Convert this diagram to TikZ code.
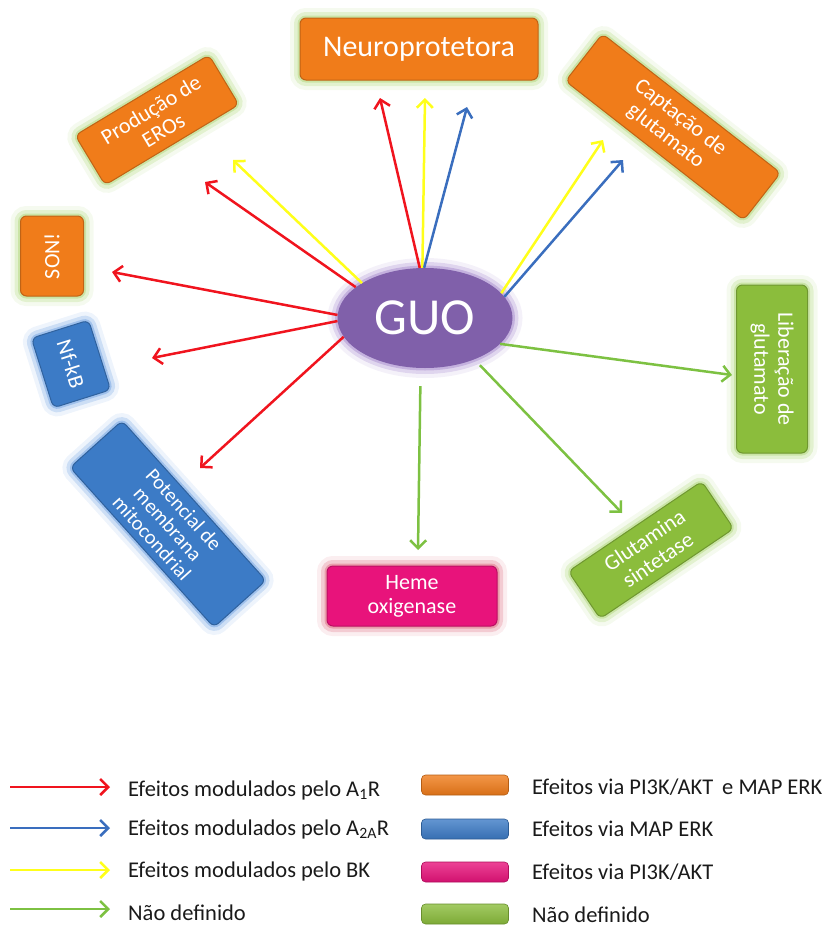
\documentclass[tikz,border=0pt]{standalone}
\usepackage{fontspec}
\setmainfont{Carlito}
\usetikzlibrary{shapes.geometric,arrows.meta}

\definecolor{cOrange}{HTML}{F07C1A}
\definecolor{cBlue}{HTML}{3C7BC6}
\definecolor{cPink}{HTML}{E8137B}
\definecolor{cGreen}{HTML}{8BBD3C}
\definecolor{cPurple}{HTML}{8060AA}
\definecolor{gGreen}{HTML}{BFDF94}
\definecolor{gBlue}{HTML}{8DB5E8}
\definecolor{gPink}{HTML}{E58A9A}
\definecolor{gPurple}{HTML}{B8A2D8}
\definecolor{aRed}{HTML}{F0141E}
\definecolor{aYellow}{HTML}{FFFF1A}
\definecolor{aBlue}{HTML}{3A6EBE}
\definecolor{aGreen}{HTML}{7DC142}
\definecolor{txt}{HTML}{1A1A1A}

\tikzset{
 glow/.style={preaction={draw=#1,line width=20pt,opacity=0.15},
              preaction={draw=#1,line width=12pt,opacity=0.35},
              preaction={draw=#1,line width=5pt,opacity=0.7}},
 box/.style={rectangle,rounded corners=6pt,inner sep=0pt,align=center,text=white,
             font=\fontsize{22}{24}\selectfont,line width=1pt},
 obox/.style={box,fill=cOrange,draw=cOrange!80!black,glow=gGreen},
 bbox/.style={box,fill=cBlue,draw=cBlue!80!black,glow=gBlue},
 pbox/.style={box,fill=cPink,draw=cPink!80!black,glow=gPink},
 gbox/.style={box,fill=cGreen,draw=cGreen!80!black,glow=gGreen},
 arr/.style={line width=2.5pt,-{Straight Barb[length=8pt,width=16pt]}},
 rarr/.style={arr,draw=aRed},
 yarr/.style={arr,draw=aYellow},
 barr/.style={arr,draw=aBlue},
 garr/.style={arr,draw=aGreen},
 swatch/.style={rectangle,rounded corners=4pt,minimum width=87pt,minimum height=20pt,inner sep=0pt,draw=#1!75!black,line width=0.6pt,top color=#1!80!white,bottom color=#1!90!black},
 legtxt/.style={anchor=west,text=txt,font=\fontsize{22.5}{24}\selectfont,inner sep=0pt},
}

\begin{document}
\begin{tikzpicture}[x=1pt,y=-1pt]
\useasboundingbox (0,0) rectangle (828,929);

% central node
\node[ellipse,fill=cPurple,glow=gPurple,minimum width=175pt,minimum height=100pt,inner sep=0pt,
      text=white,font=\fontsize{52}{54}\selectfont] (guo) at (425,318) {GUO};

% boxes
\node[obox,minimum width=238pt,minimum height=62pt,font=\fontsize{30}{32}\selectfont] (neuro) at (419,49) {Neuroprotetora};
\node[obox,minimum width=156pt,minimum height=58pt,rotate=31] (ero) at (157,120) {Produção de\\EROs};
\node[obox,minimum width=80pt,minimum height=63pt,rotate=90] (inos) at (52,256) {SON!};
\node[bbox,minimum width=73pt,minimum height=60pt,rotate=-72.5] (nfkb) at (71,364) {Nf-kB};
\node[bbox,minimum width=215pt,minimum height=70pt,rotate=-48,font=\fontsize{20.5}{21.5}\selectfont] (pot) at (168,524) {Potencial de\\membrana\\mitocondrial};
\node[pbox,minimum width=170pt,minimum height=60pt] (heme) at (412,596) {Heme\\oxigenase};
\node[gbox,minimum width=161pt,minimum height=57pt,rotate=34] (gs) at (651,550) {Glutamina\\sintetase};
\node[gbox,minimum width=168pt,minimum height=71pt,rotate=-90] (lib) at (772,369) {Liberação de\\glutamato};
\node[obox,minimum width=226pt,minimum height=60pt,rotate=-38] (capt) at (673,127) {Captação de\\glutamato};

% arrow ends
\coordinate (tN1) at (380,98);
\coordinate (tN2) at (425,98);
\coordinate (tN3) at (467,107);
\coordinate (tE1) at (205,182);
\coordinate (tE2) at (233,160);
\coordinate (tS) at (112,272);
\coordinate (tK) at (152,358);
\coordinate (tP) at (200,468);
\coordinate (tC1) at (603,140);
\coordinate (tC2) at (623,160);
\coordinate (tL) at (732,375);
\coordinate (tG) at (622,513);
\coordinate (tH) at (418,550);

\draw[yarr] (guo.151) -- (tE2);
\draw[rarr] (guo.156) -- (tE1);
\draw[rarr] (guo.96) -- (tN1);
\draw[yarr] (guo.93) -- (tN2);
\draw[barr] (guo.91) -- (tN3);
\draw[rarr] (guo.178) -- (tS);
\draw[rarr] (guo.182) -- (tK);
\draw[rarr] (guo.193) -- (tP);
\draw[yarr] (guo.18) -- (tC1);
\draw[barr] (guo.15) -- (tC2);
\draw[garr] (guo.341) -- (tL);
\draw[garr,shorten <=8pt] (guo.320) -- (tG);
\draw[garr,shorten <=18pt] (guo.265) -- (tH);

% legend, arrows
\coordinate (la1) at (10,787); \coordinate (lb1) at (110,787);
\coordinate (la2) at (10,828); \coordinate (lb2) at (110,828);
\coordinate (la3) at (10,870); \coordinate (lb3) at (110,870);
\coordinate (la4) at (10,909); \coordinate (lb4) at (110,909);
\draw[rarr] (la1) -- (lb1);
\draw[barr] (la2) -- (lb2);
\draw[yarr] (la3) -- (lb3);
\draw[garr] (la4) -- (lb4);
\node[legtxt] (lt1) at (128,790) {Efeitos modulados pelo A\textsubscript{1}R};
\node[legtxt] (lt2) at (128,829) {Efeitos modulados pelo A\textsubscript{2A}R};
\node[legtxt] (lt3) at (128,871) {Efeitos modulados pelo BK};
\node[legtxt] (lt4) at (128,913) {Não definido};

% legend, swatches
\node[swatch=cOrange] (s1) at (465,785) {};
\node[swatch=cBlue] (s2) at (465,829) {};
\node[swatch=cPink] (s3) at (465,872) {};
\node[swatch=cGreen] (s4) at (465,914) {};
\node[legtxt] (rt1) at (532,787) {Efeitos via PI3K/AKT\, e MAP ERK};
\node[legtxt] (rt2) at (532,829) {Efeitos via MAP ERK};
\node[legtxt] (rt3) at (532,872) {Efeitos via PI3K/AKT};
\node[legtxt] (rt4) at (532,915) {Não definido};
\end{tikzpicture}
\end{document}
